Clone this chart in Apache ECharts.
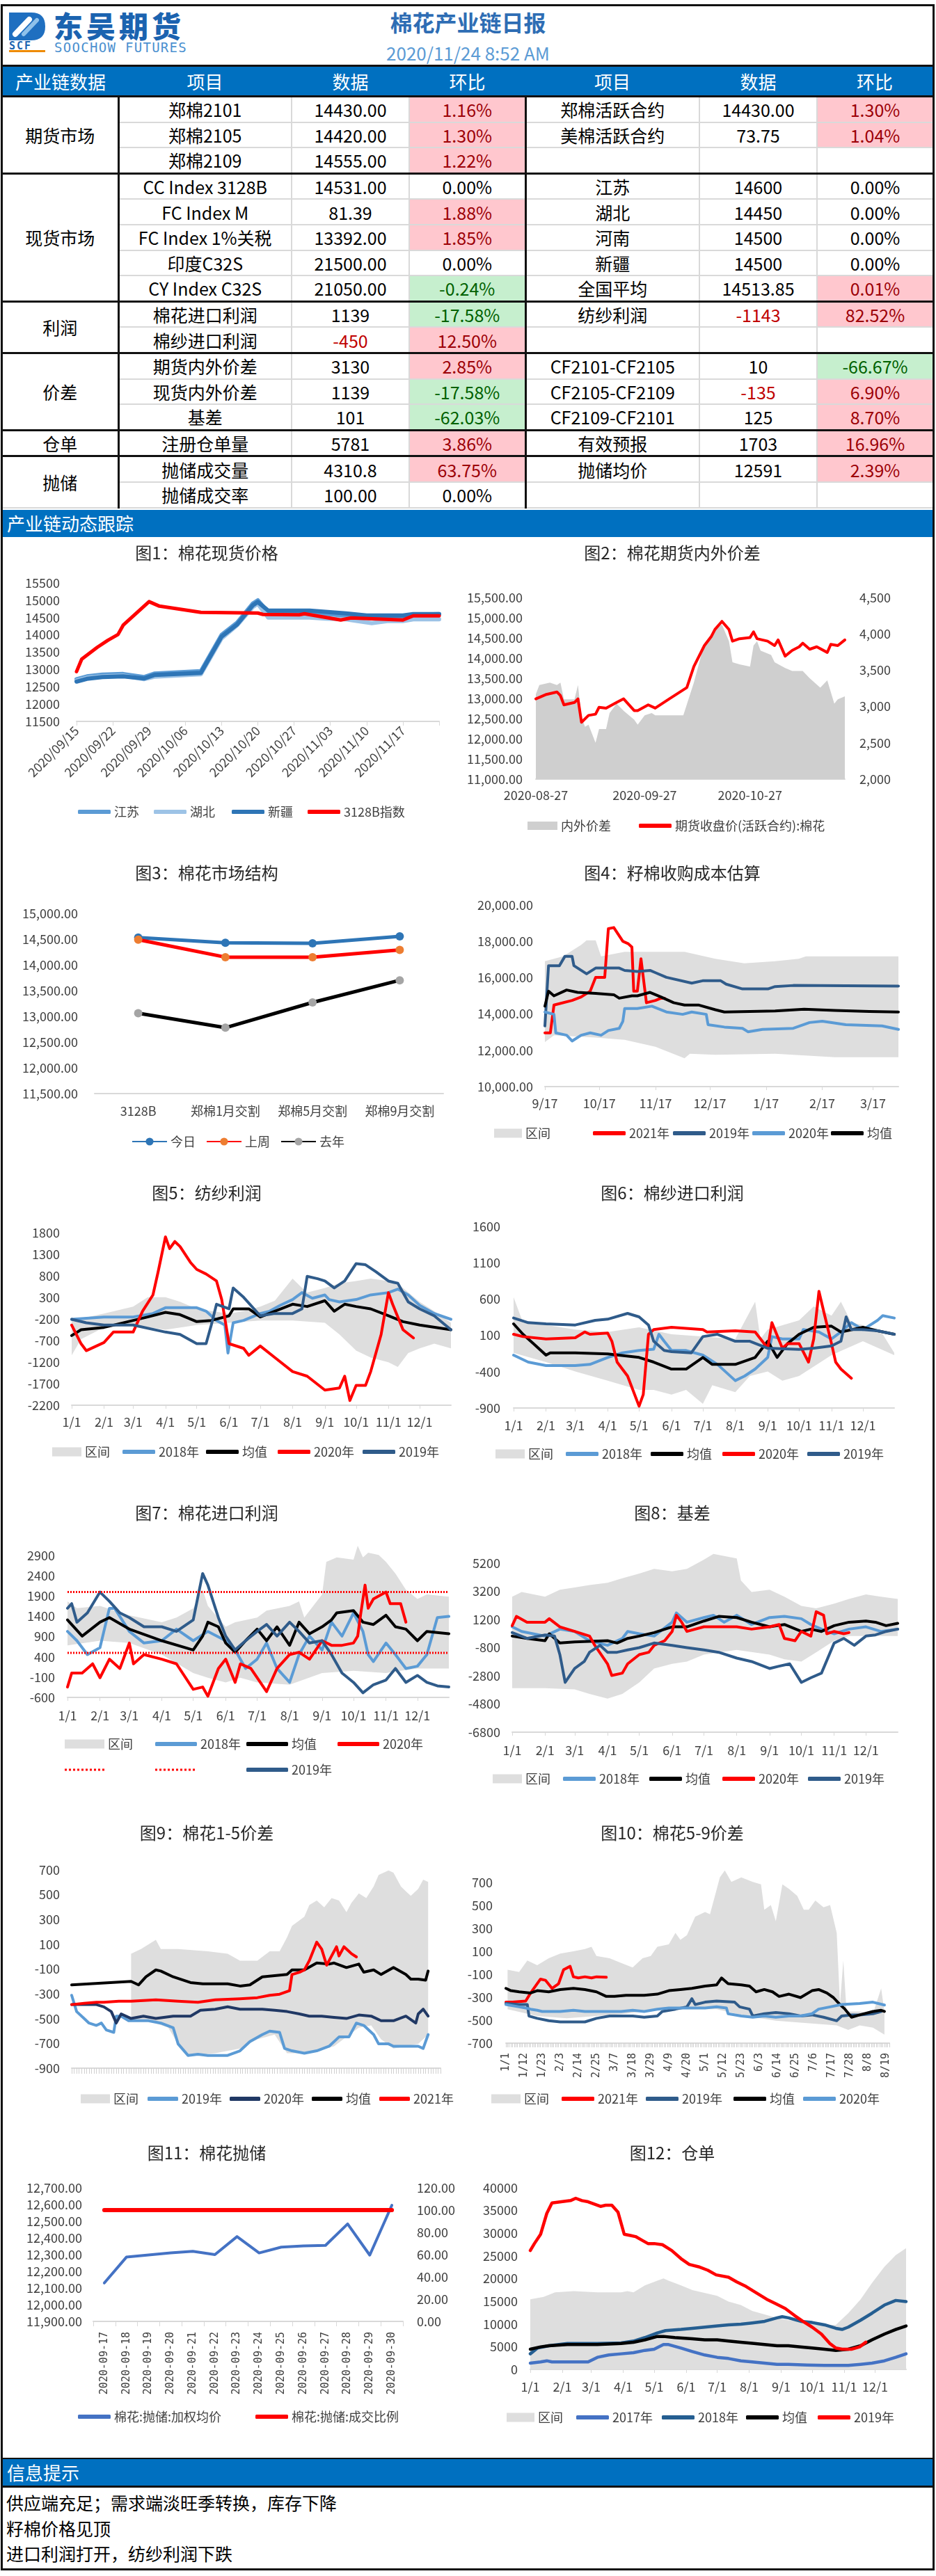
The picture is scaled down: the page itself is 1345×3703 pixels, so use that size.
<!DOCTYPE html>
<html>
<head>
<meta charset="utf-8">
<script src="https://cdn.jsdelivr.net/npm/echarts@6/dist/echarts.min.js"></script>
<style>
body{margin:0;width:1345px;height:3703px;position:relative;background:#fff;overflow:hidden;font-family:"Noto Sans CJK SC","Noto Sans",sans-serif;}
.abs{position:absolute;}
#frame{position:absolute;left:1px;top:6px;width:1336px;height:3683px;border:3px solid #111;}
#tbl{position:absolute;left:4px;top:93px;width:1336px;border-collapse:collapse;table-layout:fixed;border-top:3px solid #111;z-index:2;}
#tbl th{background:#0070c0;color:#fff;font-weight:normal;font-size:26px;height:41px;padding:0;border-bottom:3px solid #111;}
#tbl td{height:34.6px;padding:0;text-align:center;font-size:25px;line-height:30px;color:#000;border:2px solid #d9d9d9;white-space:nowrap;}
#tbl tr.gs td{border-top:3px solid #111;}
#tbl td.gname{border-right:3px solid #111;border-left:none;}
#tbl td.mid{border-right:3px solid #111;}
#tbl td.last{border-right:none;}
#tbl td.up{background:#ffc7ce;color:#9c0006;}
#tbl td.dn{background:#c6efce;color:#006100;}
.bar{position:absolute;left:4px;width:1336px;background:#0070c0;color:#fff;font-size:26px;line-height:38px;padding-left:6px;box-sizing:border-box;z-index:5;}
.note{position:absolute;left:9px;font-size:25px;line-height:30px;color:#000;}
</style>
</head>
<body>
<div id="frame"></div>
<!-- 页眉 -->
<div class="abs" style="left:13px;top:18px;">
  <svg width="52" height="40" viewBox="0 0 52 40">
    <path d="M0 0 H32 Q52 0 52 20 Q52 40 32 40 H0 Z" fill="#1f6fc0"/>
    <path d="M9 31 L29 10" stroke="#fff" stroke-width="8" stroke-linecap="round"/>
    <path d="M21 31 L40 11" stroke="#8fc1ea" stroke-width="6" stroke-linecap="round"/>
  </svg>
</div>
<div class="abs" style="left:77px;top:15px;font-size:42px;font-weight:900;color:#1b63b0;line-height:1;letter-spacing:5px;">东吴期货</div>
<div class="abs" style="left:13px;top:59px;font-size:15px;font-weight:bold;color:#1b63b0;line-height:1;letter-spacing:2px;font-family:'DejaVu Sans Mono',monospace;">SCF</div>
<div class="abs" style="left:13px;top:72px;width:52px;height:3px;background:#ee8a00;"></div>
<div class="abs" style="left:78px;top:59px;font-size:19px;color:#4a90d0;line-height:1;letter-spacing:1.3px;font-family:'DejaVu Sans Mono',monospace;">SOOCHOW FUTURES</div>
<div class="abs" style="left:0;width:1345px;top:15px;text-align:center;font-size:32px;font-weight:bold;color:#2e6db4;line-height:1;">棉花产业链日报</div>
<div class="abs" style="left:0;width:1345px;top:63px;text-align:center;font-size:26px;color:#5b9bd5;line-height:1;">2020/11/24 8:52 AM</div>

<table id="tbl">
  <colgroup><col style="width:166px"><col style="width:249px"><col style="width:169px"><col style="width:167px"><col style="width:250px"><col style="width:169px"><col style="width:166px"></colgroup>
  <thead><tr><th>产业链数据</th><th>项目</th><th>数据</th><th>环比</th><th>项目</th><th>数据</th><th>环比</th></tr></thead>
  <tbody id="tb"></tbody>
</table>

<div class="bar" style="top:733px;height:39px;">产业链动态跟踪</div>
<div class="abs" style="left:4px;top:3533px;width:1336px;height:2px;background:#111;z-index:5;"></div>
<div class="bar" style="top:3535px;height:38px;">信息提示</div>
<div class="abs" style="left:4px;top:3573px;width:1336px;height:3px;background:#111;z-index:5;"></div>
<div id="notes"></div>

<script>
// ---------- 表格数据 ----------
const futuresRows = [
  ['郑棉2101', '14430.00', '1.16%', '郑棉活跃合约', '14430.00', '1.30%'],
  ['郑棉2105', '14420.00', '1.30%', '美棉活跃合约', '73.75', '1.04%'],
  ['郑棉2109', '14555.00', '1.22%', '', '', '']
];
const spotRows = [
  ['CC Index 3128B', '14531.00', '0.00%', '江苏', '14600', '0.00%'],
  ['FC Index M', '81.39', '1.88%', '湖北', '14450', '0.00%'],
  ['FC Index 1%关税', '13392.00', '1.85%', '河南', '14500', '0.00%'],
  ['印度C32S', '21500.00', '0.00%', '新疆', '14500', '0.00%'],
  ['CY Index C32S', '21050.00', '-0.24%', '全国平均', '14513.85', '0.01%']
];
const profitRows = [
  ['棉花进口利润', '1139', '-17.58%', '纺纱利润', '-1143', '82.52%'],
  ['棉纱进口利润', '-450', '12.50%', '', '', '']
];
const spreadRows = [
  ['期货内外价差', '3130', '2.85%', 'CF2101-CF2105', '10', '-66.67%'],
  ['现货内外价差', '1139', '-17.58%', 'CF2105-CF2109', '-135', '6.90%'],
  ['基差', '101', '-62.03%', 'CF2109-CF2101', '125', '8.70%']
];
const receiptRows = [
  ['注册仓单量', '5781', '3.86%', '有效预报', '1703', '16.96%']
];
const auctionRows = [
  ['抛储成交量', '4310.8', '63.75%', '抛储均价', '12591', '2.39%'],
  ['抛储成交率', '100.00', '0.00%', '', '', '']
];
const tableGroups = [['期货市场', futuresRows], ['现货市场', spotRows], ['利润', profitRows], ['价差', spreadRows], ['仓单', receiptRows], ['抛储', auctionRows]];
const notes = ['供应端充足；需求端淡旺季转换，库存下降', '籽棉价格见顶', '进口利润打开，纺纱利润下跌'];

// ---------- 图1 棉花现货价格 ----------
const c1Jiangsu = [[0,12720],[2,12800],[5,12850],[9,12870],[13,12780],[15,12880],[24,12950],[28,14000],[31,14350],[34,14900],[35,15000],[37,14650],[45,14650],[52,14550],[56,14500],[63,14500],[65,14580],[70,14600]];
const c1Hubei = [[0,12680],[2,12760],[5,12800],[9,12820],[13,12720],[15,12790],[24,12860],[28,13900],[31,14280],[34,14800],[35,14900],[37,14500],[45,14500],[48,14470],[52,14450],[57,14340],[60,14400],[63,14400],[65,14450],[70,14450]];
const c1Xinjiang = [[0,12650],[2,12730],[5,12780],[9,12800],[13,12740],[15,12840],[24,12900],[28,13950],[31,14300],[34,14850],[35,14950],[37,14700],[45,14700],[52,14620],[56,14560],[63,14560],[65,14600],[70,14600]];
const c1Index = [[0,12940],[1,13300],[4,13640],[6,13840],[8,14010],[9,14280],[14,14960],[16,14830],[24,14650],[35,14630],[36,14590],[43,14580],[44,14610],[51,14430],[53,14490],[63,14430],[65,14550],[70,14550]];

// ---------- 图2 棉花期货内外价差 ----------
const c2Spread = [[0,3170],[1,3295],[4,3330],[6,3295],[7,3330],[8,3100],[11,3100],[12,3295],[13,2850],[14,2720],[15,2750],[17,2500],[18,2690],[20,2690],[21,2910],[23,3040],[25,2940],[28,2820],[29,2750],[31,2880],[33,2910],[34,2880],[42,2880],[45,3330],[48,3870],[51,4060],[53,4130],[55,3900],[56,3610],[58,3580],[61,3550],[62,3840],[63,3900],[64,3770],[67,3710],[68,3610],[71,3530],[73,3490],[76,3490],[78,3390],[81,3260],[83,3360],[84,3200],[85,3040],[86,3100],[88,3140]];
const c2Close = [[0,12990],[3,13100],[6,13160],[7,13070],[8,12840],[11,12900],[12,12990],[13,12410],[15,12580],[17,12610],[18,12780],[20,12760],[23,12900],[25,12990],[28,12700],[29,12700],[32,12840],[34,12760],[38,12990],[43,13270],[45,13790],[48,14310],[50,14540],[51,14710],[53,14910],[55,14710],[56,14420],[58,14480],[61,14510],[62,14650],[63,14480],[66,14420],[68,14310],[69,14450],[71,14050],[73,14190],[75,14280],[76,14370],[78,14220],[80,14280],[83,14140],[84,14340],[86,14310],[88,14450]];

// ---------- 图3 棉花市场结构 ----------
const c3Cats = ['3128B', '郑棉1月交割', '郑棉5月交割', '郑棉9月交割'];
const c3Today = [14531, 14430, 14420, 14555];
const c3LastWeek = [14490, 14150, 14150, 14290];
const c3LastYear = [13060, 12780, 13270, 13700];

// ---------- 图4 籽棉收购成本估算 ----------
const c4Up = [[0,16910],[10,17170],[20,17810],[23,18060],[28,18060],[31,17170],[44,17420],[77,17420],[94,17040],[110,16790],[127,16910],[140,17040],[144,17170],[195,17170]];
const c4Lo = [[0,12450],[5,12830],[28,12700],[44,12580],[61,12190],[77,11560],[80,11810],[94,11750],[127,11810],[160,11620],[195,11620]];
const c4Y2021 = [[0,12960],[3,12960],[5,14490],[15,14745],[20,14936],[25,15255],[28,16020],[33,16020],[35,18700],[38,18760],[43,18000],[46,17870],[48,17680],[49,15255],[51,15255],[53,17040],[56,14620],[61,14745],[64,14870],[66,14870]];
const c4Y2019 = [[0,13340],[2,16660],[8,16660],[11,17170],[15,17170],[16,16660],[23,16210],[28,16530],[41,16530],[44,16400],[51,16340],[58,16400],[61,16275],[67,16020],[81,15700],[87,15830],[97,15830],[100,15640],[109,15380],[123,15380],[127,15510],[137,15570],[195,15540]];
const c4Y2020 = [[0,14110],[5,13980],[6,12960],[12,12830],[15,12510],[20,12830],[25,12960],[31,12830],[35,13090],[41,13210],[43,13600],[44,14300],[51,14300],[59,14430],[67,14110],[76,13980],[81,14110],[89,13980],[90,13410],[99,13280],[109,13210],[112,13020],[120,13150],[137,13210],[146,13530],[153,13600],[166,13410],[186,13340],[195,13150]];
const c4Avg = [[0,14430],[2,15255],[5,15000],[12,15320],[18,15190],[28,15130],[38,15060],[41,14870],[48,15000],[51,15000],[58,15190],[64,14940],[71,14620],[77,14490],[85,14490],[94,14235],[99,14110],[127,14170],[143,14260],[160,14200],[179,14140],[195,14110]];

// ---------- 图5 纺纱利润 ----------
const c5Up = [[0,-235],[31,-73],[59,88],[73,303],[90,303],[104,200],[120,34],[134,-20],[151,-73],[165,-20],[181,88],[195,223],[212,734],[221,520],[226,411],[243,519],[257,627],[273,680],[287,734],[304,680],[318,519],[334,196],[348,-20],[364,-289]];
const c5Lo = [[0,-1042],[9,-666],[31,-396],[59,-342],[90,-450],[120,-342],[151,-289],[181,-235],[212,-235],[243,-289],[257,-558],[273,-935],[287,-1096],[304,-1204],[313,-1312],[323,-989],[334,-881],[348,-773],[364,-881]];
const c5Y2018 = [[0,-208],[31,-154],[59,-154],[78,-73],[90,61],[120,61],[129,-20],[139,-235],[147,-342],[150,-989],[155,-289],[165,-235],[181,-73],[190,-20],[200,115],[212,250],[221,411],[231,280],[243,357],[247,250],[257,196],[273,250],[287,357],[304,411],[313,492],[323,357],[334,115],[348,-73],[364,-208]];
const c5Avg = [[0,-585],[9,-450],[31,-396],[59,-235],[73,-154],[90,-47],[104,-100],[120,-262],[134,-235],[151,-127],[155,34],[170,34],[181,-154],[195,-20],[212,142],[226,88],[243,223],[252,-20],[262,142],[273,88],[287,34],[304,-127],[318,-262],[334,-342],[364,-450]];
const c5Y2020 = [[0,-342],[9,-773],[14,-935],[31,-746],[40,-504],[59,-504],[68,-20],[78,357],[83,896],[90,1703],[94,1430],[99,1595],[104,1480],[114,1111],[120,949],[129,842],[139,680],[144,249],[151,-773],[165,-881],[170,-1042],[181,-827],[195,-1096],[212,-1419],[226,-1527],[243,-1850],[257,-1800],[262,-1527],[267,-2092],[273,-1742],[282,-1742],[287,-1419],[297,-558],[304,411],[308,142],[318,-450],[328,-639]];
const c5Y2019 = [[0,-208],[14,-289],[31,-342],[59,-342],[90,-504],[104,-558],[120,-773],[129,-773],[134,-342],[139,142],[151,34],[155,519],[165,303],[181,-127],[195,-73],[212,-73],[221,34],[226,788],[236,734],[243,680],[252,519],[262,680],[273,1084],[282,1057],[292,896],[304,680],[313,626],[323,196],[334,34],[348,-127],[364,-450]];

// ---------- 图6 棉纱进口利润 ----------
const c6Up = [[0,626],[9,275],[31,243],[59,179],[90,147],[120,211],[151,115],[181,83],[212,51],[231,562],[236,51],[243,179],[273,307],[287,498],[304,371],[313,562],[323,275],[334,243],[353,115],[364,-140]];
const c6Lo = [[0,-140],[31,-268],[59,-396],[90,-523],[120,-651],[134,-651],[151,-715],[165,-651],[181,-843],[190,-587],[212,-683],[226,-459],[243,-396],[257,-523],[273,-459],[304,-172],[334,20],[364,-172]];
const c6Y2018 = [[0,-172],[14,-268],[31,-316],[59,-316],[73,-300],[90,-204],[104,-140],[120,-108],[134,-90],[139,115],[144,19],[151,-108],[165,-108],[181,-172],[195,-300],[212,-523],[221,-459],[231,-364],[243,-204],[247,83],[257,51],[273,51],[277,179],[292,147],[304,51],[313,147],[323,275],[334,179],[348,307],[353,371],[364,339]];
const c6Avg = [[0,259],[9,115],[19,-13],[31,-172],[35,-140],[59,-140],[90,-156],[120,-204],[134,-268],[151,-364],[165,-364],[181,-204],[190,-300],[212,-300],[231,-204],[243,19],[252,-204],[262,-13],[273,115],[287,211],[304,227],[313,147],[334,211],[348,163],[364,115]];
const c6Y2020 = [[0,115],[9,83],[31,51],[59,67],[68,147],[73,115],[90,131],[94,19],[99,-268],[109,-459],[120,-875],[124,-715],[129,115],[134,179],[151,211],[181,179],[185,147],[212,163],[231,147],[243,-77],[247,275],[257,-77],[262,-13],[273,-13],[282,-268],[287,51],[292,706],[297,403],[304,-13],[308,-268],[313,-364],[323,-491]];
const c6Y2019 = [[0,339],[14,275],[31,259],[59,243],[78,307],[90,323],[109,403],[120,355],[129,243],[134,19],[144,-108],[151,-124],[170,-140],[181,83],[195,115],[212,19],[226,19],[243,-77],[273,-92],[287,-77],[304,-45],[313,19],[318,355],[323,179],[334,179],[348,163],[364,115]];

// ---------- 图7 棉花进口利润 ----------
const c7Up = [[0,1769],[9,1600],[31,1655],[59,1426],[90,1255],[104,1369],[120,1598],[129,2055],[134,1655],[151,1141],[160,1255],[181,1369],[190,1540],[212,1655],[221,1769],[226,1369],[243,1941],[247,2740],[257,2854],[273,2797],[277,3140],[282,2854],[287,2968],[297,2911],[304,2740],[313,2455],[323,2055],[334,1826],[343,1941],[364,1883]];
const c7Lo = [[0,684],[31,798],[59,741],[90,456],[120,-1],[134,-115],[151,-230],[165,-115],[181,-230],[212,-287],[243,-1],[273,56],[304,-1],[318,56],[334,113],[364,113]];
const c7Y2018 = [[0,1027],[9,798],[19,456],[31,627],[40,1598],[45,1598],[59,1027],[73,741],[90,798],[104,1084],[120,798],[134,1027],[151,798],[160,570],[170,113],[181,342],[190,741],[200,113],[212,-230],[221,456],[231,912],[243,570],[252,1255],[262,912],[273,1484],[282,1027],[287,456],[292,284],[304,741],[313,456],[323,113],[334,170],[343,456],[353,1369],[364,1398]];
const c7Avg = [[0,1312],[14,912],[31,1255],[40,1369],[59,1084],[90,798],[120,570],[129,912],[134,1255],[144,1141],[151,741],[160,513],[170,798],[181,1084],[190,798],[200,1141],[212,684],[221,1255],[231,969],[243,1141],[252,1312],[257,1484],[273,1540],[282,1255],[292,1198],[304,1426],[313,1141],[323,1084],[334,798],[343,1027],[364,970]];
const c7Y2020 = [[0,-344],[4,0],[14,0],[24,228],[31,-115],[40,342],[50,113],[59,741],[63,228],[73,456],[90,342],[104,228],[120,-401],[129,-344],[134,-572],[144,113],[151,342],[160,-230],[165,228],[175,113],[181,-115],[190,-458],[200,113],[212,456],[221,513],[231,342],[243,798],[252,684],[262,684],[273,741],[277,912],[280,1484],[284,2169],[287,1598],[292,1826],[304,1998],[308,1712],[318,1712],[323,1255]];
const c7Y2019 = [[0,1598],[4,1712],[9,1255],[19,1484],[31,1998],[40,1769],[50,1484],[59,1369],[73,1141],[90,1141],[104,1027],[120,1312],[129,2455],[134,2169],[144,1369],[151,912],[160,570],[170,798],[181,1027],[190,1198],[200,912],[212,1255],[221,1027],[231,741],[243,798],[252,456],[262,1],[273,-230],[282,-487],[292,-287],[304,-173],[313,113],[323,-230],[334,-58],[343,-230],[353,-315],[364,-344]];
const c7UpperLine = 2000;
const c7LowerLine = 500;

// ---------- 图8 基差 ----------
const c8Up = [[0,2816],[9,3145],[31,2816],[45,3310],[59,3474],[73,3640],[90,3803],[104,4131],[120,4460],[134,4790],[151,4625],[165,4790],[181,5447],[190,5857],[212,5530],[216,3968],[226,3145],[243,3310],[257,2816],[273,2159],[287,1995],[304,2323],[318,2652],[334,2981],[348,2816],[364,2652]];
const c8Lo = [[0,-3677],[31,-3677],[59,-3759],[73,-4088],[90,-4417],[104,-4088],[120,-3266],[134,-2280],[151,-1951],[165,-1786],[181,-1293],[212,-964],[243,-1293],[257,-1622],[273,-1786],[287,-1129],[304,-307],[318,22],[364,22]];
const c8Y2018 = [[0,679],[9,351],[31,22],[45,515],[59,351],[73,-307],[90,-636],[104,-143],[109,351],[120,186],[134,22],[151,1007],[155,1666],[165,1007],[181,1337],[190,1502],[200,1007],[212,1502],[226,844],[243,1337],[257,1420],[273,1255],[282,844],[292,515],[304,186],[318,515],[334,679],[348,351],[364,515]];
const c8Avg = [[0,22],[14,-143],[31,-307],[35,186],[45,-471],[59,-389],[90,-307],[99,-471],[109,-143],[120,22],[134,269],[151,679],[165,679],[181,1090],[195,1420],[212,1337],[226,1007],[243,679],[257,844],[273,351],[282,515],[292,351],[304,762],[318,1007],[334,1090],[343,1007],[353,762],[364,926]];
const c8Y2020 = [[0,762],[4,1420],[14,1007],[31,1007],[35,1255],[45,679],[59,351],[73,22],[78,-636],[90,-1951],[94,-2773],[104,-2609],[109,-1951],[120,-1293],[129,-1129],[134,-636],[144,-307],[151,351],[155,1502],[160,1007],[165,351],[181,679],[195,679],[212,679],[226,515],[243,679],[252,844],[257,-143],[267,-307],[273,351],[282,22],[287,1749],[294,1502],[297,186],[304,351],[313,186],[318,268]];
const c8Y2019 = [[0,269],[14,-143],[31,104],[40,22],[45,-1293],[50,-3266],[59,-2280],[68,-1786],[73,-1129],[83,-636],[90,-1129],[99,-1129],[109,-964],[120,-800],[134,-471],[151,-636],[165,-800],[181,-964],[195,-1129],[212,-1540],[226,-1786],[243,-2280],[252,-2116],[262,-1951],[273,-3266],[282,-2937],[292,-2609],[304,-471],[313,-143],[323,-636],[334,22],[343,104],[353,351],[364,515]];

// ---------- 图9 棉花1-5价差 ----------
const c9Up = [[24,24],[28,61],[34,136],[36,61],[43,61],[55,43],[63,24],[68,-32],[75,-32],[80,43],[84,43],[87,155],[89,248],[94,323],[96,416],[99,453],[102,398],[105,472],[108,453],[111,359],[113,434],[116,510],[119,472],[122,566],[124,659],[128,696],[130,678],[133,566],[135,528],[137,491],[140,547],[142,622],[144,603]];
const c9Lo = [[24,-517],[31,-517],[39,-573],[43,-704],[48,-797],[58,-779],[68,-741],[75,-667],[82,-629],[87,-779],[96,-779],[106,-723],[111,-648],[116,-573],[121,-555],[125,-667],[130,-741],[135,-723],[140,-704],[144,-629]];
const c9Y2019 = [[0,-312],[2,-443],[5,-499],[7,-536],[10,-555],[12,-536],[14,-592],[17,-611],[18,-480],[20,-480],[23,-517],[31,-517],[36,-536],[41,-573],[43,-704],[47,-797],[51,-788],[55,-797],[63,-797],[68,-760],[72,-685],[77,-629],[80,-601],[84,-611],[86,-741],[89,-760],[94,-779],[99,-760],[104,-723],[108,-648],[112,-648],[115,-536],[118,-555],[122,-629],[124,-704],[128,-704],[130,-723],[140,-723],[142,-741],[144,-629]];
const c9Y2020 = [[0,-387],[5,-387],[10,-387],[13,-405],[16,-443],[18,-536],[20,-462],[24,-499],[29,-480],[34,-499],[41,-480],[48,-480],[52,-433],[58,-424],[63,-405],[68,-424],[77,-424],[82,-433],[87,-443],[92,-462],[96,-480],[101,-480],[106,-490],[111,-499],[116,-471],[121,-480],[125,-517],[130,-517],[135,-480],[139,-536],[140,-462],[142,-424],[144,-480]];
const c9Avg = [[0,-228],[24,-200],[27,-228],[30,-163],[34,-107],[36,-116],[41,-163],[48,-209],[53,-219],[63,-219],[68,-237],[72,-228],[77,-163],[87,-144],[89,-107],[94,-107],[99,-51],[104,-60],[106,-51],[111,-88],[116,-60],[118,-125],[122,-107],[125,-144],[130,-88],[135,-144],[137,-181],[140,-181],[143,-190],[144,-116]];
const c9Y2021 = [[0,-387],[5,-377],[10,-368],[13,-368],[19,-359],[24,-359],[34,-349],[43,-359],[51,-368],[58,-349],[68,-340],[75,-331],[80,-312],[84,-303],[88,-275],[89,-144],[92,-126],[94,-107],[96,-32],[99,117],[101,61],[103,-69],[105,6],[107,80],[108,6],[110,80],[112,43],[113,24],[115,-2]];

// ---------- 图10 棉花5-9价差 ----------
const c10Up = [[1,-61],[8,-81],[13,19],[19,-21],[26,39],[33,80],[41,100],[48,120],[52,140],[55,59],[63,39],[70,-1],[77,-41],[83,39],[88,59],[92,140],[99,160],[103,261],[106,200],[110,241],[115,402],[121,442],[124,422],[130,744],[133,805],[137,704],[143,744],[150,704],[155,684],[157,462],[161,503],[164,362],[168,684],[172,644],[177,583],[181,462],[184,462],[188,543],[193,483],[197,503],[201,261],[203,-364],[205,20],[207,-424],[215,-424],[223,-444],[228,-223],[230,-424]];
const c10Lo = [[1,-404],[19,-464],[37,-484],[55,-464],[73,-444],[92,-404],[110,-404],[128,-404],[146,-464],[164,-505],[183,-525],[201,-545],[208,-585],[215,-545],[223,-565],[230,-626]];
const c10Y2021 = [[0,-343],[4,-343],[12,-333],[15,-263],[21,-142],[24,-152],[28,-223],[32,-182],[35,-61],[39,-31],[41,-122],[44,-132],[48,-122],[52,-132],[55,-122],[61,-126]];
const c10Y2019 = [[0,-354],[8,-364],[13,-364],[14,-464],[19,-484],[26,-505],[33,-515],[41,-515],[48,-515],[55,-484],[63,-464],[70,-464],[77,-464],[84,-474],[92,-464],[95,-424],[103,-404],[110,-384],[113,-313],[115,-364],[121,-343],[128,-333],[139,-343],[142,-384],[148,-404],[150,-464],[157,-444],[164,-434],[172,-444],[179,-464],[186,-454],[193,-474],[201,-505],[204,-464],[210,-454],[215,-454],[223,-444],[228,-424]];
const c10Avg = [[0,-223],[3,-243],[8,-253],[15,-263],[19,-243],[26,-253],[33,-233],[41,-223],[48,-233],[55,-253],[61,-293],[66,-293],[73,-283],[84,-283],[92,-273],[99,-243],[106,-233],[113,-223],[121,-203],[128,-193],[131,-132],[135,-182],[143,-193],[148,-203],[152,-253],[157,-233],[162,-253],[166,-293],[172,-273],[179,-303],[186,-243],[190,-233],[195,-263],[199,-303],[203,-364],[206,-404],[210,-474],[215,-454],[223,-424],[228,-414],[230,-424]];
const c10Y2020 = [[0,-364],[8,-384],[12,-394],[15,-404],[19,-414],[22,-424],[33,-424],[41,-414],[48,-424],[55,-424],[70,-424],[77,-414],[84,-424],[92,-404],[99,-394],[110,-394],[121,-394],[128,-384],[134,-394],[135,-444],[143,-464],[150,-474],[157,-464],[164,-474],[172,-464],[179,-464],[186,-444],[190,-404],[197,-384],[204,-364],[215,-354],[223,-343],[230,-368]];

// ---------- 图11 棉花抛储 ----------
const c11Dates = ['2020-09-17','2020-09-18','2020-09-19','2020-09-20','2020-09-21','2020-09-22','2020-09-23','2020-09-24','2020-09-25','2020-09-26','2020-09-27','2020-09-28','2020-09-29','2020-09-30'];
const c11Price = [12130, 12285, 12298, 12310, 12320, 12300, 12408, 12310, 12345, 12352, 12355, 12484, 12297, 12596];
const c11Ratio = [100, 100, 100, 100, 100, 100, 100, 100, 100, 100, 100, 100, 100, 100];

// ---------- 图12 仓单 ----------
const c12Range = [[0,15450],[13,15960],[24,16980],[42,17240],[65,16980],[88,16980],[94,17240],[100,16980],[111,18520],[123,19540],[129,20050],[134,19540],[146,18520],[157,17490],[181,16220],[192,14940],[204,14170],[215,12890],[227,12120],[239,11360],[250,10840],[262,10590],[273,10080],[285,9820],[296,9820],[308,12380],[320,15450],[331,19030],[343,22610],[354,25170],[364,26700]];
const c12Y2017 = [[0,1380],[10,1640],[16,1890],[21,1640],[36,1640],[56,1640],[65,2660],[76,3170],[88,3430],[100,3680],[111,4190],[120,4450],[129,5470],[134,5470],[146,4700],[157,3940],[169,3170],[181,2660],[192,2400],[204,1890],[215,1640],[227,1380],[239,1120],[250,1120],[268,970],[285,870],[296,870],[308,870],[320,1120],[331,1380],[343,1890],[354,2660],[364,3430]];
const c12Y2018 = [[0,3430],[7,4700],[18,5210],[36,5720],[53,5720],[65,5720],[88,5830],[100,6240],[111,7010],[123,8030],[131,8540],[146,8800],[157,9050],[169,9310],[181,9570],[192,9820],[204,9950],[215,10230],[227,10590],[239,11360],[244,11610],[250,11360],[262,10590],[273,10330],[285,9820],[296,9050],[302,8800],[308,9310],[320,10840],[331,12380],[343,14170],[354,15190],[364,14940]];
const c12Avg = [[0,4450],[10,4960],[18,5210],[36,5470],[65,5470],[88,5720],[100,5980],[111,6500],[123,7260],[129,7260],[140,7010],[157,6750],[169,6500],[181,6500],[192,6240],[204,5980],[215,5730],[227,5470],[239,5220],[250,5220],[262,4960],[273,4700],[285,4450],[296,4190],[308,4450],[320,5220],[331,6500],[343,7780],[354,8800],[364,9570]];
const c12Y2019 = [[0,26190],[4,27720],[10,29770],[16,34370],[21,36680],[30,36930],[39,37190],[44,37700],[50,37190],[56,36930],[62,36420],[68,35910],[73,36160],[79,36160],[85,34630],[91,29770],[97,29510],[102,29260],[108,28490],[114,27720],[120,27720],[128,27470],[137,26190],[146,24400],[154,23120],[163,22610],[172,21840],[180,20820],[192,20310],[200,19280],[209,18260],[218,16980],[229,15450],[238,14430],[247,13400],[256,11870],[264,10590],[273,9310],[282,7780],[290,5730],[296,4710],[302,4450],[311,4450],[319,4960],[325,5990]];

// ---------- 表格 ----------
const tb = document.getElementById('tb');
tableGroups.forEach(([gname, rows]) => {
  rows.forEach((r, i) => {
    const tr = document.createElement('tr');
    if (i === 0) {
      tr.className = 'gs';
      const g = document.createElement('td');
      g.rowSpan = rows.length; g.className = 'gname'; g.textContent = gname;
      tr.appendChild(g);
    }
    r.forEach((v, j) => {
      const td = document.createElement('td');
      td.textContent = v;
      if ((j === 2 || j === 5) && v !== '') {
        const p = parseFloat(v);
        if (p > 0) td.classList.add('up');
        if (p < 0) td.classList.add('dn');
      }
      if ((j === 1 || j === 4) && v.startsWith('-')) td.style.color = '#c00000';
      if (j === 2) td.classList.add('mid');
      if (j === 5) td.classList.add('last');
      tr.appendChild(td);
    });
    tb.appendChild(tr);
  });
});
notes.forEach((t, i) => {
  const d = document.createElement('div');
  d.className = 'note'; d.style.top = (3582 + i * 36.5) + 'px'; d.textContent = t;
  document.getElementById('notes').appendChild(d);
});

// ---------- 图表公共 ----------
const FONT = '"Noto Sans CJK SC", "Noto Sans", sans-serif';
const MONO = '"DejaVu Sans Mono", monospace';
const TXT = '#404040';
const BAND = '#dedede';
const pad = n => String(n).padStart(2, '0');
function dayLabels(y, m, d, n, f) {
  const out = [], dt = new Date(y, m - 1, d);
  for (let i = 0; i < n; i++) {
    out.push(f(dt.getFullYear(), dt.getMonth() + 1, dt.getDate()));
    dt.setDate(dt.getDate() + 1);
  }
  return out;
}
const md = (Y, M, D) => M + '/' + D;
const seasonDays = dayLabels(2019, 1, 1, 365, md);
const fmt2 = v => v.toLocaleString('en-US', {minimumFractionDigits: 2, maximumFractionDigits: 2});
const fmt0 = v => v.toLocaleString('en-US');
const plain = v => String(v);
const lab = o => Object.assign({fontSize: 18, color: TXT, fontFamily: FONT}, o || {});
const xLine = {show: true, onZero: false, lineStyle: {color: '#d9d9d9', width: 2}};
function yVal(min, max, interval, o) {
  return Object.assign({type: 'value', min, max, interval, axisLine: {show: false}, axisTick: {show: false}, splitLine: {show: false}, axisLabel: lab({formatter: plain})}, o || {});
}
function line(name, data, color, width, extra) {
  return Object.assign({name, type: 'line', data, symbol: 'none', clip: false,
    lineStyle: {color, width, cap: 'round', join: 'round'}, itemStyle: {color}, z: 3}, extra || {});
}
function band(name, upper, lower, color) {
  return {
    name, type: 'custom', data: upper, encode: {x: 0, y: 1}, itemStyle: {color}, z: 1, silent: true,
    renderItem: (params, api) => {
      if (params.dataIndex !== 0) return null;
      const pts = upper.map(p => api.coord(p)).concat(lower.slice().reverse().map(p => api.coord(p)));
      return {type: 'polygon', shape: {points: pts}, style: {fill: color}};
    }
  };
}
// 图例：每项单独放置；线条图例用粗圆角条
function lg(name, left, cy, o) {
  return Object.assign({data: [name], left, top: cy - 12, icon: 'roundRect', itemWidth: 47, itemHeight: 6, padding: 0,
    selectedMode: false, textStyle: lab()}, o || {});
}
const rectItem = name => ({name, icon: 'rect'});
const DOTS = 'path://M0,0h2v2h-2zM4,0h2v2h-2zM8,0h2v2h-2zM12,0h2v2h-2zM16,0h2v2h-2zM20,0h2v2h-2zM24,0h2v2h-2zM28,0h2v2h-2zM32,0h2v2h-2zM36,0h2v2h-2z';
const isDay1 = (i, v) => v.split('/')[1] === '1';
function seasonX(margin) {
  return {type: 'category', data: seasonDays, boundaryGap: false, axisLine: xLine,
    axisTick: {show: true, interval: isDay1, length: 5, lineStyle: {color: '#d9d9d9'}},
    axisLabel: lab({interval: isDay1, margin: margin || 15})};
}
function titleG(text) {
  return [{type: 'text', x: 294, y: 28, style: {text, fontSize: 24, fontFamily: FONT, fill: '#262626', align: 'center', verticalAlign: 'middle'}}];
}
function panel(i, opt) {
  const el = document.createElement('div');
  el.style.cssText = 'position:absolute;z-index:1;left:' + (i % 2 ? 672 : 3) + 'px;top:' + (767 + Math.floor(i / 2) * 460) + 'px;width:669px;height:460px;';
  document.body.appendChild(el);
  const c = echarts.init(el);
  opt.animation = false;
  opt.textStyle = {fontFamily: FONT};
  if (opt.grid) opt.grid.outerBoundsMode = 'none';
  c.setOption(opt);
}

// 图1
const c1Dates = dayLabels(2020, 9, 15, 71, (Y, M, D) => Y + '/' + pad(M) + '/' + pad(D));
panel(0, {
  graphic: titleG('图1：棉花现货价格'),
  grid: {left: 107, top: 71, width: 521, height: 199},
  xAxis: {type: 'category', data: c1Dates, boundaryGap: false, axisLine: xLine,
    axisTick: {show: true, interval: i => i % 7 === 0, length: 6, lineStyle: {color: '#d9d9d9'}},
    axisLabel: lab({rotate: 45, interval: i => i % 7 === 0 && i < 70, margin: 10})},
  yAxis: yVal(11500, 15500, 500, {axisLabel: lab({margin: 24, formatter: plain})}),
  series: [line('江苏', c1Jiangsu, '#5b9bd5', 6), line('湖北', c1Hubei, '#9dc3e6', 6), line('新疆', c1Xinjiang, '#2e75b6', 6), line('3128B指数', c1Index, '#ff0000', 5)],
  legend: [lg('江苏', 109, 403), lg('湖北', 218, 403), lg('新疆', 330, 403), lg('3128B指数', 439, 403)]
});

// 图2
const c2Dates = dayLabels(2020, 8, 27, 89, (Y, M, D) => Y + '-' + pad(M) + '-' + pad(D));
panel(1, {
  graphic: titleG('图2：棉花期货内外价差'),
  grid: {left: 98, top: 92, width: 444, height: 261},
  xAxis: {type: 'category', data: c2Dates, boundaryGap: false, axisLine: xLine, axisTick: {show: false},
    axisLabel: lab({interval: (i, v) => v.endsWith('-27'), margin: 14})},
  yAxis: [yVal(11000, 15500, 500, {axisLabel: lab({margin: 19, formatter: fmt2})}),
          yVal(2000, 4500, 500, {position: 'right', axisLabel: lab({margin: 21, formatter: fmt0})})],
  series: [
    {name: '内外价差', type: 'line', yAxisIndex: 1, data: c2Spread, symbol: 'none', lineStyle: {width: 0},
      areaStyle: {color: '#cfcfcf', opacity: 1, origin: 'start'}, itemStyle: {color: '#cfcfcf'}, z: 1},
    line('期货收盘价(活跃合约):棉花', c2Close, '#ff0000', 4)
  ],
  legend: [lg(rectItem('内外价差'), 86, 423, {itemWidth: 43, itemHeight: 12}), lg('期货收盘价(活跃合约):棉花', 246, 423)]
});

// 图3
function mkLine3(name, data, lc, mc) {
  return {name, type: 'line', data, symbol: 'circle', symbolSize: 12, lineStyle: {color: lc, width: 5}, itemStyle: {color: mc}};
}
const lg3 = (name, left) => ({data: [name], left, top: 405, itemWidth: 50, itemHeight: 14, padding: 0, selectedMode: false, textStyle: lab()});
panel(2, {
  graphic: titleG('图3：棉花市场结构'),
  grid: {left: 133, top: 86, width: 501, height: 259},
  xAxis: {type: 'category', data: c3Cats, boundaryGap: true, axisLine: xLine, axisTick: {show: false}, axisLabel: lab({margin: 16, interval: 0})},
  yAxis: yVal(11500, 15000, 500, {axisLabel: lab({margin: 24, formatter: fmt2})}),
  series: [mkLine3('今日', c3Today, '#2e75b6', '#2e75b6'), mkLine3('上周', c3LastWeek, '#ff0000', '#ed7d31'), mkLine3('去年', c3LastYear, '#000000', '#a5a5a5')],
  legend: [lg3('今日', 186), lg3('上周', 293), lg3('去年', 400)]
});

// 图4（日序号作数值轴，刻度放在每月17日）
const c4Days = dayLabels(2020, 9, 17, 196, md);
const c4Ticks = c4Days.map((v, i) => (v.split('/')[1] === '17' ? i : -1)).filter(i => i >= 0);
panel(3, {
  graphic: titleG('图4：籽棉收购成本估算'),
  grid: {left: 111, top: 74, width: 508, height: 261},
  xAxis: {type: 'value', min: 0, max: 195, axisLine: xLine, splitLine: {show: false},
    axisTick: {show: true, customValues: c4Ticks, length: 5, lineStyle: {color: '#d9d9d9'}},
    axisLabel: lab({customValues: c4Ticks, margin: 15, formatter: v => c4Days[Math.round(v)]})},
  yAxis: yVal(10000, 20000, 2000, {axisLabel: lab({margin: 17, formatter: fmt2})}),
  series: [band('区间', c4Up, c4Lo, BAND), line('2021年', c4Y2021, '#ff0000', 4), line('2019年', c4Y2019, '#2f5b8a', 4),
           line('2020年', c4Y2020, '#5b9bd5', 4), line('均值', c4Avg, '#000000', 4)],
  legend: [lg(rectItem('区间'), 38, 405, {itemWidth: 40, itemHeight: 13}), lg('2021年', 180, 405), lg('2019年', 295, 405), lg('2020年', 409, 405), lg('均值', 522, 405)]
});

// 图5
panel(4, {
  graphic: titleG('图5：纺纱利润'),
  grid: {left: 100, top: 85, width: 545, height: 248},
  xAxis: seasonX(15),
  yAxis: yVal(-2200, 1800, 500, {axisLabel: lab({margin: 17, formatter: plain})}),
  series: [band('区间', c5Up, c5Lo, BAND), line('2018年', c5Y2018, '#5b9bd5', 4), line('均值', c5Avg, '#000000', 4),
           line('2020年', c5Y2020, '#ff0000', 4), line('2019年', c5Y2019, '#2f5b8a', 4)],
  legend: [lg(rectItem('区间'), 72, 403, {itemWidth: 42, itemHeight: 13}), lg('2018年', 173, 403), lg('均值', 293, 403), lg('2020年', 396, 403), lg('2019年', 518, 403)]
});

// 图6
panel(5, {
  graphic: titleG('图6：棉纱进口利润'),
  grid: {left: 66, top: 76, width: 547, height: 261},
  xAxis: seasonX(16),
  yAxis: yVal(-900, 1600, 500, {axisLabel: lab({margin: 19, formatter: plain})}),
  series: [band('区间', c6Up, c6Lo, BAND), line('2018年', c6Y2018, '#5b9bd5', 4), line('均值', c6Avg, '#000000', 4),
           line('2020年', c6Y2020, '#ff0000', 4), line('2019年', c6Y2019, '#2f5b8a', 4)],
  legend: [lg(rectItem('区间'), 40, 406, {itemWidth: 42, itemHeight: 13}), lg('2018年', 141, 406), lg('均值', 263, 406), lg('2020年', 366, 406), lg('2019年', 488, 406)]
});

// 图7
const c7UpperSeries = [[0, c7UpperLine], [364, c7UpperLine]];
const c7LowerSeries = [[0, c7LowerLine], [364, c7LowerLine]];
const dotted = (name, data) => ({name, type: 'line', data, symbol: 'none', lineStyle: {color: '#ff0000', width: 3, type: [2, 2]}, itemStyle: {color: '#ff0000'}, z: 4});
panel(6, {
  graphic: titleG('图7：棉花进口利润'),
  grid: {left: 94, top: 89, width: 548, height: 204},
  xAxis: seasonX(17),
  yAxis: yVal(-600, 2900, 500, {axisLabel: lab({margin: 18, formatter: plain})}),
  series: [band('区间', c7Up, c7Lo, BAND), line('2018年', c7Y2018, '#5b9bd5', 4), line('均值', c7Avg, '#000000', 4),
           line('2020年', c7Y2020, '#ff0000', 4), dotted(' ', c7UpperSeries), dotted('  ', c7LowerSeries), line('2019年', c7Y2019, '#2f5b8a', 4)],
  legend: [lg(rectItem('区间'), 90, 363, {itemWidth: 57, itemHeight: 13}), lg('2018年', 220, 363, {itemWidth: 60}), lg('均值', 351, 363, {itemWidth: 60}), lg('2020年', 482, 363, {itemWidth: 60}),
           lg(' ', 90, 400, {itemWidth: 57, itemHeight: 3, icon: DOTS}), lg('  ', 220, 400, {itemWidth: 57, itemHeight: 3, icon: DOTS}), lg('2019年', 351, 400, {itemWidth: 60})]
});

// 图8
panel(7, {
  graphic: titleG('图8：基差'),
  grid: {left: 64, top: 100, width: 554, height: 243},
  xAxis: seasonX(17),
  yAxis: yVal(-6800, 5200, 2000, {axisLabel: lab({margin: 17, formatter: plain})}),
  series: [band('区间', c8Up, c8Lo, BAND), line('2018年', c8Y2018, '#5b9bd5', 4), line('均值', c8Avg, '#000000', 4),
           line('2020年', c8Y2020, '#ff0000', 4), line('2019年', c8Y2019, '#2f5b8a', 4)],
  legend: [lg(rectItem('区间'), 36, 413, {itemWidth: 42, itemHeight: 13}), lg('2018年', 137, 413), lg('均值', 261, 413), lg('2020年', 366, 413), lg('2019年', 489, 413)]
});

// 图9
const c9Cats = Array.from({length: 150}, (v, i) => 'd' + i);
panel(8, {
  graphic: titleG('图9：棉花1-5价差'),
  grid: {left: 100, top: 81, width: 530, height: 285},
  xAxis: {type: 'category', data: c9Cats, boundaryGap: false, axisLine: xLine,
    axisTick: {show: true, interval: 0, length: 8, lineStyle: {color: '#d0d0d0'}}, axisLabel: {show: false}},
  yAxis: yVal(-900, 700, 200, {axisLabel: lab({margin: 17, formatter: plain})}),
  series: [band('区间', c9Up, c9Lo, BAND), line('2019年', c9Y2019, '#5b9bd5', 4), line('2020年', c9Y2020, '#203864', 4),
           line('均值', c9Avg, '#000000', 4), line('2021年', c9Y2021, '#ff0000', 4)],
  legend: [lg(rectItem('区间'), 113, 413, {itemWidth: 42, itemHeight: 13}), lg('2019年', 209, 413, {itemWidth: 44}), lg('2020年', 327, 413, {itemWidth: 44}), lg('均值', 445, 413, {itemWidth: 44}), lg('2021年', 542, 413, {itemWidth: 44})]
});

// 图10
const c10Days = dayLabels(2020, 1, 1, 234, md);
panel(9, {
  graphic: titleG('图10：棉花5-9价差'),
  grid: {left: 55, top: 99, width: 551, height: 231},
  xAxis: {type: 'category', data: c10Days, boundaryGap: false, axisLine: xLine,
    axisTick: {show: true, interval: 0, length: 6, lineStyle: {color: '#d0d0d0'}},
    axisLabel: {interval: 10, rotate: 90, margin: 14, fontSize: 15, color: TXT, fontFamily: MONO}},
  yAxis: yVal(-700, 700, 200, {axisLabel: lab({margin: 19, formatter: plain})}),
  series: [band('区间', c10Up, c10Lo, BAND), line('2021年', c10Y2021, '#ff0000', 4), line('2019年', c10Y2019, '#2f5b8a', 4),
           line('均值', c10Avg, '#000000', 4), line('2020年', c10Y2020, '#5b9bd5', 4)],
  legend: [lg(rectItem('区间'), 34, 413, {itemWidth: 42, itemHeight: 13}), lg('2021年', 135, 413), lg('2019年', 256, 413), lg('均值', 382, 413), lg('2020年', 482, 413)]
});

// 图11
panel(10, {
  graphic: titleG('图11：棉花抛储'),
  grid: {left: 131, top: 78, width: 445, height: 192},
  xAxis: {type: 'category', data: c11Dates, boundaryGap: true, axisLine: xLine,
    axisTick: {show: true, length: 7, lineStyle: {color: '#d9d9d9'}},
    axisLabel: {interval: 0, rotate: 90, margin: 15, fontSize: 15, color: TXT, fontFamily: MONO}},
  yAxis: [yVal(11900, 12700, 100, {axisLabel: lab({margin: 16, formatter: fmt2})}),
          yVal(0, 120, 20, {position: 'right', axisLabel: lab({margin: 20, formatter: v => v.toFixed(2)})})],
  series: [line('棉花:抛储:加权均价', c11Price, '#4472c4', 4), line('棉花:抛储:成交比例', c11Ratio, '#ff0000', 6, {yAxisIndex: 1})],
  legend: [lg('棉花:抛储:加权均价', 109, 410), lg('棉花:抛储:成交比例', 364, 410)]
});

// 图12
panel(11, {
  graphic: titleG('图12：仓单'),
  grid: {left: 90, top: 78, width: 540, height: 261},
  xAxis: seasonX(16),
  yAxis: yVal(0, 40000, 5000, {axisLabel: lab({margin: 18, formatter: plain})}),
  series: [
    {name: '区间', type: 'line', data: c12Range, symbol: 'none', lineStyle: {width: 0}, areaStyle: {color: BAND, opacity: 1, origin: 'start'}, itemStyle: {color: BAND}, z: 1},
    line('2017年', c12Y2017, '#4472c4', 4.5), line('2018年', c12Y2018, '#255e91', 4.5), line('均值', c12Avg, '#000000', 4.5), line('2019年', c12Y2019, '#ff0000', 4.5)
  ],
  legend: [lg(rectItem('区间'), 56, 411, {itemWidth: 40, itemHeight: 13}), lg('2017年', 156, 411), lg('2018年', 279, 411), lg('均值', 400, 411), lg('2019年', 503, 411)]
});
</script>
</body>
</html>
